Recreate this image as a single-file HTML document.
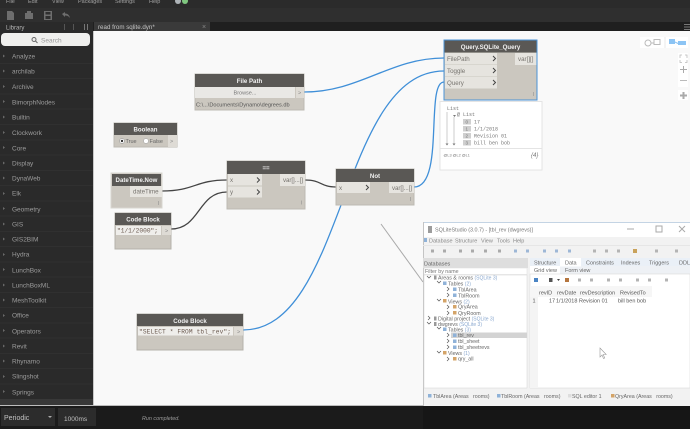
<!DOCTYPE html>
<html><head><meta charset="utf-8"><style>
html,body{margin:0;padding:0;background:#f9f9f9;width:690px;height:429px;overflow:hidden}
svg{display:block;font-family:"Liberation Sans",sans-serif;filter:blur(.3px)}
.lib{font-size:6.500px;fill:#9c9c9c}
.tri{fill:#6a6a6a}
.h{font-size:6.100px;font-weight:bold;fill:#f2f2f2;text-anchor:middle}
.p{font-size:6.200px;fill:#77746f}
.m{font-family:"Liberation Mono",monospace;font-size:6.200px;fill:#6b5a50}
.t{font-size:5.300px;fill:#666}
.b{fill:#8aa8cf;font-size:5px}
</style></head><body>
<svg width="690" height="429" viewBox="0 0 690 429" xmlns="http://www.w3.org/2000/svg">
<rect width="690" height="429" fill="#f9f9f9"/>
<!-- top -->
<rect width="690" height="8" fill="#2b2b2b"/>
<rect y="8" width="690" height="15" fill="#2f2f2f"/>
<rect y="22" width="690" height="9" fill="#1f1f1f"/>
<g font-size="5.500" fill="#a0a0a0"><text x="6" y="3">File</text><text x="28" y="3">Edit</text><text x="52" y="3">View</text><text x="78" y="3">Packages</text><text x="115" y="3">Settings</text><text x="149" y="3">Help</text></g>
<circle cx="178" cy="1" r="3" fill="#aeb4b8"/><circle cx="185" cy="1" r="3" fill="#7fc77f"/>
<g fill="#6e6e6e"><path d="M7 11h5l2 2v7H7z"/><path d="M25 13h2v-2h4v2h2v6h-8z"/><path d="M44 11h8v9h-8zM45.500 12v2.500h5V12zM45.500 16v3h5v-3z" fill-rule="evenodd"/></g>
<path d="M62 14l3-2v1.500c3 0 4.500 2 5 4.500-1.500-2-3-2.500-5-2.500V17z" fill="#6e6e6e"/>
<rect x="94" y="22" width="116" height="9" fill="#3a3a3a"/>
<text x="98" y="29" font-size="6.200" fill="#c4c4c4">read from sqlite.dyn*</text>
<text x="202" y="29" font-size="7" fill="#888">×</text>
<rect x="684" y="24" width="6" height="1" fill="#777"/><rect x="684" y="26.500" width="6" height="1" fill="#777"/><rect x="684" y="29" width="6" height="1" fill="#777"/>
<!-- sidebar -->
<rect y="22" width="93" height="384" fill="#2a2a2a"/>
<rect x="93" y="31" width="1" height="375" fill="#c8c8c8"/>
<text x="6" y="29.500" font-size="6" fill="#b5b5b5">Library</text>
<rect x="64" y="24" width="1" height="6" fill="#555"/><rect x="73" y="24" width="1" height="6" fill="#555"/><rect x="84" y="24" width="1" height="6" fill="#777"/><rect x="87" y="24" width="1" height="6" fill="#777"/>
<rect x="1" y="33" width="89" height="13" rx="4" fill="#efefed"/>
<circle cx="34" cy="39.500" r="2" fill="none" stroke="#666" stroke-width="1"/><path d="M35.500 41l2 2" stroke="#666"/>
<text x="41" y="42.500" font-size="6.500" fill="#999">Search</text>
<g stroke="#303030" stroke-width="1"><path d="M0 63.500h93M0 78.500h93M0 94h93M0 109h93M0 124.500h93M0 140h93M0 155h93M0 170.500h93M0 185.500h93M0 201h93M0 216h93M0 231.500h93M0 246.500h93M0 262h93M0 277h93M0 292.500h93M0 307.500h93M0 323h93M0 338h93M0 353.500h93M0 368.500h93M0 384h93"/></g>
<rect y="399" width="93" height="7" fill="#383838"/>
<g class="lib">
<text x="12" y="58.500">Analyze</text><text x="12" y="73.500">archilab</text><text x="12" y="89">Archive</text><text x="12" y="104.500">BimorphNodes</text><text x="12" y="119.500">Builtin</text><text x="12" y="135">Clockwork</text><text x="12" y="150.500">Core</text><text x="12" y="165.500">Display</text><text x="12" y="180.500">DynaWeb</text><text x="12" y="195.500">Elk</text><text x="12" y="211.500">Geometry</text><text x="12" y="226.500">GIS</text><text x="12" y="241.500">GIS2BIM</text><text x="12" y="256.500">Hydra</text><text x="12" y="272.500">LunchBox</text><text x="12" y="287.500">LunchBoxML</text><text x="12" y="302.500">MeshToolkit</text><text x="12" y="317.500">Office</text><text x="12" y="333.500">Operators</text><text x="12" y="348.500">Revit</text><text x="12" y="363.500">Rhynamo</text><text x="12" y="378.500">Slingshot</text><text x="12" y="394.500">Springs</text>
</g>
<g class="tri"><path d="M3 54.500l2 1.500-2 1.500zM3 69.500l2 1.500-2 1.500zM3 85l2 1.500-2 1.500zM3 100l2 1.500-2 1.500zM3 115.500l2 1.500-2 1.500zM3 131l2 1.500-2 1.500zM3 146l2 1.500-2 1.500zM3 161.500l2 1.500-2 1.500zM3 176.500l2 1.500-2 1.500zM3 192l2 1.500-2 1.500zM3 207l2 1.500-2 1.500zM3 222.500l2 1.500-2 1.500zM3 237.500l2 1.500-2 1.500zM3 253l2 1.500-2 1.500zM3 268l2 1.500-2 1.500zM3 283.500l2 1.500-2 1.500zM3 298.500l2 1.500-2 1.500zM3 314l2 1.500-2 1.500zM3 329l2 1.500-2 1.500zM3 344.500l2 1.500-2 1.500zM3 359.500l2 1.500-2 1.500zM3 375l2 1.500-2 1.500zM3 390l2 1.500-2 1.500z"/></g>
<!-- bottom -->
<rect y="405" width="690" height="1" fill="#bdbdbd"/>
<rect y="406" width="690" height="23" fill="#161616"/>
<rect y="406" width="423" height="23" fill="#1b1b1b"/>
<rect x="1" y="408" width="54" height="18" fill="#2c2c2c"/>
<rect x="58" y="408" width="38" height="18" fill="#2c2c2c"/>
<text x="4" y="420" font-size="7" fill="#c0c0c0">Periodic</text>
<path d="M48 416h4l-2 2z" fill="#aaa"/>
<text x="64" y="421" font-size="6.500" fill="#c0c0c0">1000ms</text>
<text x="142" y="420" font-size="5.400" font-style="italic" fill="#9a9a9a">Run completed.</text>
<!-- canvas controls -->
<rect x="640" y="37" width="48" height="11" fill="#fff"/><rect x="664.500" y="37" width="1" height="11" fill="#e8e8e8"/>
<circle cx="648" cy="43" r="3" fill="none" stroke="#bbb"/><rect x="654" y="39.500" width="6" height="5" fill="none" stroke="#bbb"/><path d="M651 43h3" stroke="#bbb"/>
<rect x="669" y="39" width="6" height="5" fill="#8cc4f4"/><rect x="678" y="41" width="8" height="4" fill="#8cc4f4"/><path d="M675 42l4 2" stroke="#8cc4f4"/>
<rect x="678" y="53" width="10" height="34" fill="#fff"/>
<rect x="678" y="90" width="10" height="10" fill="#fff"/>
<path d="M680 58v-3h2M685 55h2v3M680 60v2.500h2M687 60v2.500h-2" fill="none" stroke="#bbb" stroke-width=".8"/>
<path d="M680 69.500h7M683.500 66v7" stroke="#aaa" stroke-width="1"/>
<path d="M680 80.500h7" stroke="#bbb" stroke-width="1"/>
<path d="M680 95.500h7M683.500 92v7" stroke="#aaa" stroke-width="2"/>
<!-- grey diagonal -->
<path d="M381 224L423 282" stroke="#a9a9a9" stroke-width="1" fill="none"/>
<!-- wires -->
<g fill="none" stroke-width="1.300">
<path d="M304 92C360 92 390 58 444 58" stroke="#3f8fd8"/>
<path d="M243 330C345 330 340 71 444 71" stroke="#3f8fd8"/>
<path d="M414 187C445 187 425 82 444 82" stroke="#3f8fd8"/>
<path d="M162 191C195 191 195 180 227 180" stroke="#444"/>
<path d="M171 229C200 229 198 192 227 192" stroke="#444"/>
<path d="M305 180C322 180 320 187 336 187" stroke="#444"/>
</g>
<!-- File Path -->
<rect x="195" y="74" width="109" height="36" fill="#cbc7bf" stroke="#bdbab3"/>
<rect x="195" y="74" width="109" height="13" fill="#5a5855"/>
<text class="h" x="249.500" y="83">File Path</text>
<rect x="195" y="87" width="100" height="11" fill="#e9e8e5"/>
<text x="245" y="94.500" font-size="5.500" fill="#777" text-anchor="middle">Browse...</text>
<rect x="296" y="87" width="8" height="11" fill="#dedbd5"/><text x="298" y="94.500" font-size="5.500" fill="#888">&gt;</text>
<text x="196" y="106.500" font-size="5.600" fill="#555">C:\...\Documents\Dynamo\degrees.db</text>
<!-- Boolean -->
<rect x="114" y="123" width="63" height="24" fill="#cbc7bf" stroke="#bdbab3"/>
<rect x="114" y="123" width="63" height="12" fill="#5a5855"/>
<text class="h" x="145.500" y="131.500">Boolean</text>
<circle cx="122" cy="141" r="2.500" fill="#fff" stroke="#888" stroke-width=".5"/><circle cx="122" cy="141" r="1.200" fill="#333"/>
<text x="125.500" y="143" font-size="5.500" fill="#666">True</text>
<circle cx="146" cy="141" r="2.500" fill="#fff" stroke="#999" stroke-width=".5"/>
<text x="149.500" y="143" font-size="5.500" fill="#666">False</text>
<rect x="168" y="135" width="9" height="12" fill="#dedbd5"/><text x="170" y="143" font-size="5.500" fill="#888">&gt;</text>
<!-- DateTime.Now -->
<rect x="111" y="173" width="51" height="35" fill="#cbc7bf" stroke="#d8d6d0"/>
<rect x="112" y="174" width="49" height="12" fill="#5a5855"/>
<text class="h" x="136.500" y="182">DateTime.Now</text>
<rect x="130" y="186" width="32" height="11" fill="#e6e4df"/>
<text class="p" x="133" y="193.500">dateTime</text>
<text x="158" y="205" font-size="5" fill="#888">I</text>
<!-- CB1 -->
<rect x="115" y="213" width="56" height="36" fill="#cbc7bf" stroke="#b5b2ab"/>
<rect x="115" y="213" width="56" height="12" fill="#5a5855"/>
<text class="h" x="143" y="221.500">Code Block</text>
<rect x="116" y="226" width="45" height="9" fill="#efeeeb"/>
<rect x="162" y="226" width="9" height="9" fill="#dedbd5"/><text x="165" y="232.500" font-size="5.500" fill="#888">&gt;</text>
<text class="m" x="117" y="232.500" textLength="41">"1/1/2000";</text>
<!-- == -->
<rect x="227" y="161" width="78" height="48" fill="#cbc7bf" stroke="#bdbab3"/>
<rect x="227" y="161" width="78" height="13" fill="#5a5855"/>
<text class="h" x="266" y="170">==</text>
<rect x="228" y="174" width="34" height="11.500" fill="#e6e4df"/><rect x="228" y="186.500" width="34" height="11" fill="#e6e4df"/>
<text class="p" x="230" y="182">x</text><text class="p" x="230" y="194">y</text>
<path d="M257 177.500l2.500 2.500-2.500 2.500M257 189.500l2.500 2.500-2.500 2.500" fill="none" stroke="#444" stroke-width="1"/>
<rect x="280" y="174" width="25" height="12" fill="#e6e4df"/>
<text class="p" x="283" y="182" textLength="20">var[]...[]</text>
<text x="301" y="204.500" font-size="5" fill="#888">I</text>
<!-- Not -->
<rect x="336" y="169" width="78" height="36" fill="#cbc7bf" stroke="#bdbab3"/>
<rect x="336" y="169" width="78" height="13" fill="#5a5855"/>
<text class="h" x="375" y="178">Not</text>
<rect x="337" y="182" width="33" height="11" fill="#e6e4df"/>
<text class="p" x="339" y="190">x</text>
<path d="M366 185l2.500 2.500-2.500 2.500" fill="none" stroke="#444" stroke-width="1"/>
<rect x="389" y="182" width="25" height="11" fill="#e6e4df"/>
<text class="p" x="392" y="190" textLength="20">var[]...[]</text>
<text x="410" y="201" font-size="5" fill="#888">I</text>
<!-- CB2 -->
<rect x="137" y="314" width="106" height="36" fill="#cbc7bf" stroke="#b5b2ab"/>
<rect x="137" y="314" width="106" height="12" fill="#5a5855"/>
<text class="h" x="190" y="323">Code Block</text>
<rect x="138" y="327" width="95" height="8.500" fill="#efeeeb"/>
<rect x="234" y="327" width="9" height="8.500" fill="#dedbd5"/><text x="237" y="333.500" font-size="5.500" fill="#888">&gt;</text>
<text class="m" x="139" y="333.500" textLength="92">"SELECT * FROM tbl_rev";</text>
<!-- Query -->
<rect x="444" y="40" width="93" height="60" fill="#cbc7bf" stroke="#4b93d6" stroke-width="1"/>
<rect x="444.500" y="40.500" width="92" height="12" fill="#5a5855"/>
<text class="h" x="490.500" y="49">Query.SQLite_Query</text>
<rect x="445" y="53" width="52" height="11.500" fill="#e6e4df"/><rect x="445" y="65" width="52" height="11.500" fill="#e6e4df"/><rect x="445" y="77" width="52" height="11.500" fill="#e6e4df"/>
<text class="p" x="447" y="61">FilePath</text><text class="p" x="447" y="73">Toggle</text><text class="p" x="447" y="85">Query</text>
<path d="M493 56l2.500 2.500-2.500 2.500M493 68l2.500 2.500-2.500 2.500M493 80l2.500 2.500-2.500 2.500" fill="none" stroke="#444" stroke-width="1"/>
<rect x="515" y="53" width="21.500" height="12" fill="#e6e4df"/>
<text class="p" x="518" y="61">var[][]</text>
<text x="533" y="96" font-size="5" fill="#888">I</text>
<!-- Watch -->
<rect x="440" y="101.500" width="102" height="68.500" fill="#fff" stroke="#e4e4e4"/>
<path d="M440 148.500h102" stroke="#e4e4e4"/>
<g font-family="Liberation Mono,monospace" font-size="5" fill="#777">
<text x="447" y="110">List</text><text x="457" y="116">@ List</text>
<text x="474" y="123.500">17</text><text x="474" y="130.500">1/1/2018</text><text x="474" y="137.500">Revision 01</text><text x="474" y="144.500">bill ben bob</text>
</g>
<g fill="#cfcfcf"><rect x="463" y="119" width="8" height="5.500"/><rect x="463" y="126" width="8" height="5.500"/><rect x="463" y="133" width="8" height="5.500"/><rect x="463" y="140" width="8" height="5.500"/></g>
<g font-size="4.500" fill="#777"><text x="465.500" y="123.500">0</text><text x="465.500" y="130.500">1</text><text x="465.500" y="137.500">2</text><text x="465.500" y="144.500">3</text></g>
<path d="M447 112v32M454 117v27" stroke="#ccc"/><path d="M445.500 143.500h3l-1.500 2zM452.500 143.500h3l-1.500 2zM453 115h3l-1.500 2z" fill="#777"/>
<text x="443.500" y="156.500" font-size="3.800" fill="#777">@L3 @L2 @L1</text>
<text x="531" y="157" font-size="6" font-style="italic" fill="#777">{4}</text>
<!-- SQLite window -->
<rect x="423" y="222" width="267" height="184" fill="#f2f2f2"/>
<rect x="423" y="222" width="267" height="15" fill="#fff"/>
<rect x="423" y="222" width="267" height="1" fill="#c4d4e4"/>
<rect x="423" y="222" width="1" height="184" fill="#c4c4c4"/>
<rect x="428" y="226" width="4" height="7" fill="#9c9c9c"/>
<text x="435" y="231.500" font-size="5.400" fill="#777">SQLiteStudio (3.0.7) - [tbl_rev (dwgrevs)]</text>
<path d="M627 229h7" stroke="#aaa"/><rect x="656" y="226" width="6" height="6" fill="none" stroke="#aaa"/><path d="M679 226l6 6M685 226l-6 6" stroke="#aaa"/>
<g font-size="5.500" fill="#888"><text x="429" y="242.500">Database</text><text x="455" y="242.500">Structure</text><text x="481" y="242.500">View</text><text x="497" y="242.500">Tools</text><text x="513" y="242.500">Help</text></g>
<rect x="424" y="238" width="3" height="4" fill="#8fb2d8"/>
<g fill="#aaa"><rect x="431" y="249.500" width="3" height="3"/><rect x="443" y="249.500" width="3" height="3"/><rect x="459" y="249.500" width="3" height="3"/><rect x="471" y="249.500" width="3" height="3"/><rect x="484" y="249.500" width="3" height="3"/><rect x="498" y="249.500" width="3" height="3"/></g>
<g fill="#9db7d6"><rect x="514" y="249.500" width="3" height="3"/><rect x="526" y="249.500" width="3" height="3"/><rect x="543" y="249.500" width="3" height="3"/><rect x="555" y="249.500" width="3" height="3"/><rect x="568" y="249.500" width="3" height="3"/></g>
<g fill="#b4b4b4"><rect x="593" y="249.500" width="3" height="3"/><rect x="605" y="249.500" width="3" height="3"/><rect x="617" y="249.500" width="3" height="3"/><rect x="655" y="249.500" width="3" height="3"/><rect x="675" y="249.500" width="3" height="3"/></g>
<rect x="633" y="249" width="4" height="4" fill="#c9a25a"/>
<rect x="423" y="245" width="267" height="1" fill="#e6e6e6"/>
<rect x="423" y="258" width="105" height="10" fill="#dedede"/>
<text x="424" y="265.500" font-size="5.500" fill="#666">Databases</text>
<rect x="424" y="268" width="103" height="6.500" fill="#fff" stroke="#ddd" stroke-width=".5"/>
<text x="425" y="273" font-size="5.300" fill="#777">Filter by name</text>
<rect x="424" y="275" width="103" height="113" fill="#fff" stroke="#d4d4d4" stroke-width=".5"/>
<rect x="451" y="332.500" width="76" height="5.500" fill="#d3d3d3"/>
<g class="t">
<text x="438" y="279.500">Areas  &amp; rooms <tspan class="b">(SQLite 3)</tspan></text>
<text x="448" y="285.500">Tables <tspan class="b">(2)</tspan></text>
<text x="458" y="291.500">TblArea</text><text x="458" y="297.500">TblRoom</text>
<text x="448" y="303.500">Views <tspan class="b">(2)</tspan></text>
<text x="458" y="308.500">QryArea</text><text x="458" y="315">QryRoom</text>
<text x="438" y="320.500">Digital project <tspan class="b">(SQLite 3)</tspan></text>
<text x="438" y="326">dwgrevs <tspan class="b">(SQLite 3)</tspan></text>
<text x="448" y="331.500">Tables <tspan class="b">(3)</tspan></text>
<text x="458" y="337">tbl_rev</text><text x="458" y="343">tbl_sheet</text><text x="458" y="349">tbl_sheetrevs</text>
<text x="448" y="355">Views <tspan class="b">(1)</tspan></text>
<text x="458" y="360.500">qry_all</text>
</g>
<path d="M427 276l2 2 2-2M437 281l2 2 2-2M437 299l2 2 2-2M427 322l2 2 2-2M437 327l2 2 2-2M437 351l2 2 2-2M447 287l2 2-2 2M447 293l2 2-2 2M447 305l2 2-2 2M447 311l2 2-2 2M447 333l2 2-2 2M447 339l2 2-2 2M447 345l2 2-2 2M447 357l2 2-2 2M428 316l2 2-2 2" fill="none" stroke="#555" stroke-width=".7"/>
<g fill="#8fb2d8"><rect x="453" y="287.500" width="3.500" height="3.500"/><rect x="453" y="293.500" width="3.500" height="3.500"/><rect x="453" y="333.500" width="3.500" height="3.500"/><rect x="453" y="339.500" width="3.500" height="3.500"/><rect x="453" y="345.500" width="3.500" height="3.500"/><rect x="443" y="281.500" width="3.500" height="3.500"/><rect x="443" y="327.500" width="3.500" height="3.500"/></g>
<g fill="#d4a468"><rect x="453" y="305" width="3.500" height="3.500"/><rect x="453" y="311" width="3.500" height="3.500"/><rect x="453" y="357" width="3.500" height="3.500"/><rect x="443" y="299" width="3.500" height="3.500"/><rect x="443" y="351" width="3.500" height="3.500"/></g>
<g fill="#999"><rect x="434" y="275.500" width="2.500" height="4"/><rect x="434" y="316.500" width="2.500" height="4"/><rect x="434" y="322" width="2.500" height="4"/></g>
<!-- right panel -->
<rect x="530" y="258" width="160" height="8" fill="#eaf0f7"/>
<rect x="530" y="266" width="160" height="8" fill="#eef1f5"/>
<rect x="560" y="258" width="21" height="8.500" fill="#fff"/>
<rect x="530" y="266" width="30" height="8" fill="#fff"/>
<rect x="530" y="274" width="160" height="114" fill="#fff" stroke="#d4d4d4" stroke-width=".5"/>
<rect x="530" y="286" width="8" height="102" fill="#f4f4f4"/>
<g font-size="5.500" fill="#666"><text x="534" y="264.500">Structure</text><text x="565" y="264.500">Data</text><text x="586" y="264.500">Constraints</text><text x="621" y="264.500">Indexes</text><text x="649" y="264.500">Triggers</text><text x="679" y="264.500">DDL</text><text x="534" y="272">Grid view</text><text x="565" y="272">Form view</text></g>
<g fill="#b4b4b4"><rect x="578" y="278.500" width="3" height="3"/><rect x="590" y="278.500" width="3" height="3"/><rect x="607" y="278.500" width="3" height="3"/><rect x="619" y="278.500" width="3" height="3"/><rect x="636" y="278.500" width="3" height="3"/><rect x="648" y="278.500" width="3" height="3"/><rect x="665" y="278.500" width="3" height="3"/></g>
<rect x="534" y="278" width="4" height="4" fill="#4a84c4"/><rect x="565" y="278" width="4" height="4" fill="#b5763f"/><rect x="549" y="278" width="3.500" height="4" fill="#555"/><path d="M557 279h3l-1.500 2z" fill="#444"/>
<rect x="530" y="286" width="122" height="11" fill="#f6f6f6"/>
<g font-size="5.500" fill="#555"><text x="539" y="294.500">revID</text><text x="557" y="294.500">revDate</text><text x="580" y="294.500">revDescription</text><text x="620" y="294.500">RevisedTo</text>
<text x="532.500" y="302.500">1</text><text x="549" y="302.500">17</text><text x="556" y="302.500">1/1/2018</text><text x="579" y="302.500">Revision 01</text><text x="618" y="302.500">bill ben bob</text></g>
<path d="M600 348v9l2-2 1.500 3.500 1.200-.5-1.500-3.500h3z" fill="#fff" stroke="#999" stroke-width=".6"/>
<!-- bottom tabs -->
<g font-size="5.300" fill="#666"><text x="433" y="398">TblArea (Areas &#160; rooms)</text><text x="501" y="398">TblRoom (Areas &#160; rooms)</text><text x="572" y="398">SQL editor 1</text><text x="615" y="398">QryArea (Areas &#160; rooms)</text></g>
<rect x="428" y="394" width="3.500" height="3.500" fill="#8fb2d8"/><rect x="497" y="394" width="3.500" height="3.500" fill="#8fb2d8"/><rect x="568" y="394" width="3.500" height="3.500" fill="#ddd"/><rect x="611" y="394" width="3.500" height="3.500" fill="#d4a468"/>
</svg>
</body></html>
